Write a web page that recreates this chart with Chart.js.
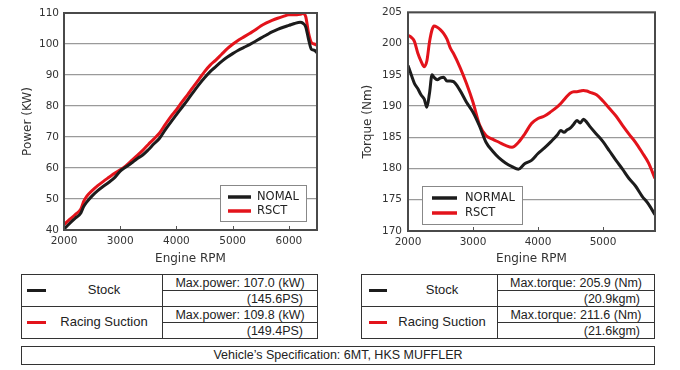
<!DOCTYPE html>
<html><head><meta charset="utf-8">
<script src="https://cdn.jsdelivr.net/npm/chart.js@4"></script>
<style>
html,body{margin:0;padding:0;background:#fff}
body{width:680px;height:370px;position:relative;overflow:hidden;font-family:"Liberation Sans",Arial,sans-serif;color:#222}
canvas{position:absolute;top:0}
.ln{position:absolute;background:#333}
.t{position:absolute;font-size:12.5px;line-height:16px;white-space:nowrap;color:#222}
.key{position:absolute;height:3px}
</style></head><body>
<canvas id="power" width="340" height="268" style="left:0"></canvas>
<canvas id="torque" width="340" height="268" style="left:340px"></canvas>
<div id="tables"></div>
<script>
// ---------- data ----------
const powerRpm = [2000,2100,2200,2300,2350,2400,2500,2600,2700,2800,2900,3000,3100,3200,3300,3400,3500,3600,3700,3800,3900,4000,4100,4200,4300,4400,4500,4600,4700,4800,4900,5000,5100,5200,5300,5400,5500,5600,5700,5800,5900,6000,6100,6200,6250,6300,6350,6400,6450,6500];
const powerNomal = [40.3,42.1,43.8,45.5,47.6,48.9,51.0,52.7,54.1,55.4,56.9,59.0,60.3,61.6,63.0,64.2,65.9,67.8,69.6,72.3,74.8,77.2,79.6,82.0,84.5,86.9,89.1,91.1,92.7,94.3,95.7,96.9,98.0,98.9,99.8,100.8,101.9,102.9,103.9,104.7,105.4,106.0,106.6,107.0,106.7,105.5,101.5,98.3,98.0,97.2];
const powerRsct = [41.7,43.4,45.0,46.8,49.2,50.8,52.7,54.3,55.7,57.0,58.3,59.4,60.7,62.4,64.0,65.7,67.6,69.4,71.3,74.0,76.6,78.8,81.3,83.7,86.2,88.6,91.1,93.2,94.8,96.6,98.4,99.9,101.2,102.3,103.4,104.5,105.8,106.8,107.6,108.3,108.9,109.4,109.4,109.6,109.8,108.8,103.5,100.5,100.0,99.6];

const torqueRpm = [2000,2050,2100,2150,2200,2250,2290,2330,2370,2400,2450,2500,2550,2600,2650,2700,2800,2900,3000,3100,3200,3300,3400,3500,3600,3700,3800,3900,4000,4100,4200,4300,4350,4400,4450,4500,4550,4600,4650,4700,4750,4800,4900,5000,5100,5200,5300,5400,5500,5600,5700,5800];
const torqueNormal = [196.5,195.0,193.6,192.8,191.8,191.1,189.8,192.0,195.0,194.6,194.2,194.5,194.6,194.0,194.0,193.9,192.5,190.6,189.0,186.8,184.2,182.8,181.7,180.9,180.3,179.9,180.8,181.3,182.4,183.3,184.3,185.4,186.1,185.8,186.2,186.5,187.1,187.7,187.3,187.9,187.4,186.7,185.5,184.3,182.8,181.3,179.9,178.4,177.2,175.6,174.3,172.6];
const torqueRsct = [201.3,201.0,200.3,198.5,197.2,196.3,197.2,200.2,202.2,202.8,202.6,202.2,201.6,200.7,199.3,198.4,196.2,193.6,190.6,187.0,185.3,184.7,184.2,183.7,183.4,184.2,185.6,187.2,188.0,188.4,189.1,189.9,190.4,191.0,191.6,192.1,192.3,192.3,192.4,192.5,192.4,192.2,191.8,190.8,189.6,188.4,186.9,185.5,184.2,182.6,180.9,178.4];

const powerTicksX = [2000,3000,4000,5000,6000];
const powerTicksY = [40,50,60,70,80,90,100,110];
const torqueTicksX = [2000,3000,4000,5000];
const torqueTicksY = [170,175,180,185,190,195,200,205];

const powerLabels = ['NOMAL','RSCT'];
const torqueLabels = ['NORMAL','RSCT'];

const BLACK = '#1c1c1c', RED = '#e3131b';

Chart.defaults.font.family = '"DejaVu Sans", Verdana, sans-serif';
Chart.defaults.color = '#333';

const framePlugin = {
  id: 'frame',
  afterDatasetsDraw(chart) {
    const {ctx, chartArea: a, scales: {x}} = chart;
    ctx.save();
    ctx.strokeStyle = '#555';
    ctx.lineWidth = 1;
    x.ticks.forEach(t => {
      const px = Math.round(x.getPixelForValue(t.value)) + 0.5;
      ctx.beginPath(); ctx.moveTo(px, a.bottom); ctx.lineTo(px, a.bottom - 4); ctx.stroke();
    });
    ctx.lineWidth = 2;
    ctx.strokeStyle = '#4a4a4a';
    ctx.strokeRect(a.left, a.top, a.right - a.left, a.bottom - a.top);
    ctx.restore();
  }
};

const boxLegend = {
  id: 'boxLegend',
  afterDraw(chart, args, o) {
    const {ctx, chartArea: a} = chart;
    const bx = o.anchorRight ? a.right - o.dx - o.w : a.left + o.dx;
    const by = a.bottom - o.dy - o.h;
    ctx.save();
    ctx.fillStyle = '#fff';
    ctx.fillRect(bx, by, o.w, o.h);
    ctx.strokeStyle = '#888';
    ctx.lineWidth = 1;
    ctx.strokeRect(bx + 0.5, by + 0.5, o.w - 1, o.h - 1);
    ctx.font = '11.5px "DejaVu Sans", Verdana, sans-serif';
    ctx.textBaseline = 'middle';
    chart.data.datasets.forEach((d, i) => {
      const y = by + o.rows[i];
      ctx.strokeStyle = d.borderColor;
      ctx.lineWidth = 3.5;
      ctx.beginPath(); ctx.moveTo(bx + o.l0, y); ctx.lineTo(bx + o.l1, y); ctx.stroke();
      ctx.fillStyle = '#222';
      ctx.fillText(d.label, bx + o.tx, y + 0.5);
    });
    ctx.restore();
  }
};

function makeChart(id, xs, s1, s2, labels, tx, ty, xmin, xmax, ymin, ymax, ytitle, lay, legendOpts) {
  const pts = s => s.map((v, i) => ({x: xs[i], y: v}));
  return new Chart(document.getElementById(id), {
    type: 'line',
    data: {
      datasets: [
        {label: labels[0], data: pts(s1), borderColor: BLACK, backgroundColor: BLACK, borderWidth: 3, pointRadius: 0, tension: 0.3, cubicInterpolationMode: 'monotone'},
        {label: labels[1], data: pts(s2), borderColor: RED, backgroundColor: RED, borderWidth: 3, pointRadius: 0, tension: 0.3, cubicInterpolationMode: 'monotone'}
      ]
    },
    options: {
      responsive: false, animation: false, devicePixelRatio: 1,
      layout: {padding: lay.padding},
      plugins: {legend: {display: false}, tooltip: {enabled: false}, boxLegend: legendOpts},
      scales: {
        x: {
          type: 'linear', min: xmin, max: xmax,
          afterBuildTicks: s => { s.ticks = tx.map(v => ({value: v})); },
          afterFit: s => { s.height = lay.xh; },
          grid: {display: false, drawTicks: false},
          border: {display: false},
          ticks: {padding: 5, maxRotation: 0, font: {size: 10.5}, color: '#333', callback: v => String(v)},
          title: {display: true, text: 'Engine RPM', font: {size: 12}, color: '#333', padding: {top: 0, bottom: 2}}
        },
        y: {
          min: ymin, max: ymax,
          afterBuildTicks: s => { s.ticks = ty.map(v => ({value: v})); },
          afterFit: s => { s.width = lay.yw; },
          grid: {color: '#9a9a9a', lineWidth: 1.2, drawTicks: false},
          border: {display: false},
          ticks: {padding: lay.yp, font: {size: 10.5}, color: '#333', callback: v => String(v)},
          title: {display: true, text: ytitle, font: {size: 12}, color: '#333', padding: {top: 7, bottom: 0}}
        }
      }
    },
    plugins: [framePlugin, boxLegend]
  });
}

makeChart('power', powerRpm, powerNomal, powerRsct, powerLabels, powerTicksX, powerTicksY, 2000, 6500, 40, 110, 'Power (KW)',
  {padding: {left: 14, right: 23, top: 13, bottom: 0}, xh: 38, yw: 50, yp: 5},
  {anchorRight: true, dx: 10, dy: 8, w: 87, h: 37, rows: [12, 26], l0: 8, l1: 31, tx: 37});

makeChart('torque', torqueRpm, torqueNormal, torqueRsct, torqueLabels, torqueTicksX, torqueTicksY, 2000, 5800, 170, 205, 'Torque (Nm)',
  {padding: {left: 14, right: 25, top: 12, bottom: 0}, xh: 37, yw: 54, yp: 6},
  {anchorRight: false, dx: 14, dy: 6, w: 101, h: 39, rows: [12, 27], l0: 10, l1: 35, tx: 43});

// ---------- tables ----------
const T = document.getElementById('tables');
function el(cls, css, text) {
  const d = document.createElement('div');
  d.className = cls; Object.assign(d.style, css);
  if (text !== undefined) d.textContent = text;
  T.appendChild(d); return d;
}
function hline(x1, x2, y) { el('ln', {left: x1 + 'px', top: y + 'px', width: (x2 - x1 + 1) + 'px', height: '1px'}); }
function vline(x, y1, y2) { el('ln', {left: x + 'px', top: y1 + 'px', width: '1px', height: (y2 - y1 + 1) + 'px'}); }

function table(x0, xm, x1, rows, keyX0, keyX1) {
  const y0 = 274, y1 = 338;
  hline(x0, x1, y0); hline(x0, x1, y1); hline(x0, x1, 306);
  hline(xm, x1, 290); hline(xm, x1, 322);
  vline(x0, y0, y1); vline(xm, y0, y1); vline(x1, y0, y1);
  rows.forEach((r, i) => {
    const top = y0 + i * 32;
    el('key', {left: keyX0 + 'px', width: (keyX1 - keyX0) + 'px', top: (top + 15) + 'px', background: r.color});
    el('t', {left: keyX1 + 'px', width: (xm - keyX1) + 'px', top: (top + 8) + 'px', textAlign: 'center', fontSize: '13px'}, r.name);
    el('t', {left: (xm + 1) + 'px', width: (x1 - xm - 1) + 'px', top: (top + 1) + 'px', textAlign: 'center'}, r.l1);
    el('t', {left: (xm + 1) + 'px', width: (x1 - xm - 15) + 'px', top: (top + 17) + 'px', textAlign: 'right'}, r.l2);
  });
}
table(21, 162, 317, [
  {name: 'Stock', color: BLACK, l1: 'Max.power: 107.0 (kW)', l2: '(145.6PS)'},
  {name: 'Racing Suction', color: RED, l1: 'Max.power: 109.8 (kW)', l2: '(149.4PS)'}
], 27, 46);
table(361, 497, 654, [
  {name: 'Stock', color: BLACK, l1: 'Max.torque: 205.9 (Nm)', l2: '(20.9kgm)'},
  {name: 'Racing Suction', color: RED, l1: 'Max.torque: 211.6 (Nm)', l2: '(21.6kgm)'}
], 369, 387);

// spec box
hline(21, 654, 346); hline(21, 654, 364); vline(21, 346, 364); vline(654, 346, 364);
el('t', {left: '22px', width: '632px', top: '347px', textAlign: 'center'}, 'Vehicle\u2019s Specification: 6MT, HKS MUFFLER');
</script>
</body></html>
